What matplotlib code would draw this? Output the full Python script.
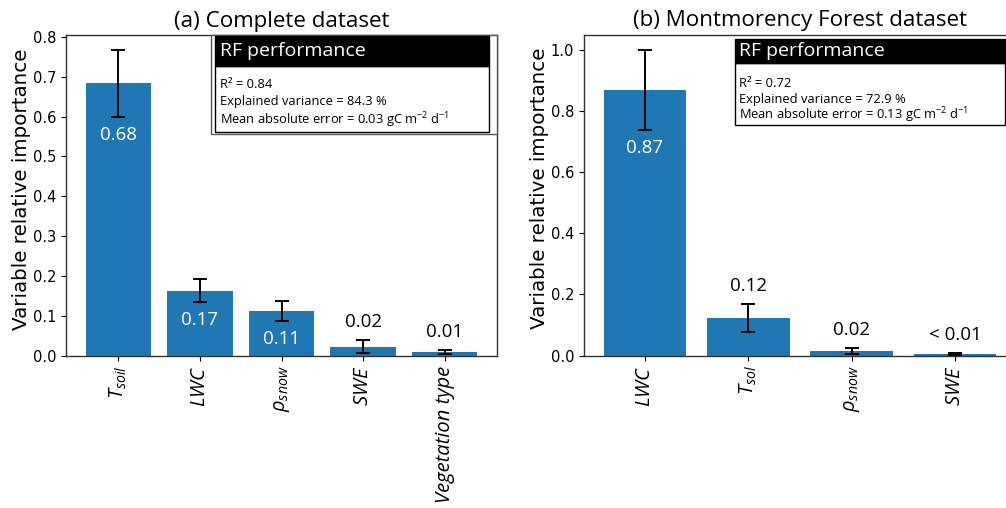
import matplotlib
matplotlib.use("Agg")
import matplotlib.pyplot as plt
from matplotlib.patches import Rectangle

plt.rcParams['mathtext.fontset'] = 'custom'
plt.rcParams['mathtext.it'] = 'Open Sans:italic'
plt.rcParams['mathtext.rm'] = 'Open Sans'
plt.rcParams['mathtext.fallback'] = 'stixsans'

SANS = ['Open Sans', 'DejaVu Sans']
DJ = 'DejaVu Sans'

# ---- data ----
cats_a = [r'$T_{soil}$', r'$LWC$', r'$\rho_{snow}$', r'$SWE$', 'Vegetation type']
vals_a = [0.683, 0.164, 0.113, 0.023, 0.010]
errs_a = [0.083, 0.029, 0.026, 0.016, 0.005]
labels_a = ['0.68', '0.17', '0.11', '0.02', '0.01']
inside_a = [True, True, True, False, False]

cats_b = [r'$LWC$', r'$T_{sol}$', r'$\rho_{snow}$', r'$SWE$']
vals_b = [0.869, 0.123, 0.016, 0.005]
errs_b = [0.132, 0.045, 0.010, 0.003]
labels_b = ['0.87', '0.12', '0.02', '< 0.01']
inside_b = [True, False, False, False]

title_a = '(a) Complete dataset'
title_b = '(b) Montmorency Forest dataset'
perf_a = ['R\u00b2 = 0.84', 'Explained variance = 84.3 %',
          'Mean absolute error = 0.03 gC m$^{-2}$ d$^{-1}$']
perf_b = ['R\u00b2 = 0.72', 'Explained variance = 72.9 %',
          'Mean absolute error = 0.13 gC m$^{-2}$ d$^{-1}$']

BLUE = '#1f77b4'
W, H = 1006, 508
fig = plt.figure(figsize=(W / 100, H / 100), dpi=100)


def axpos(x0, x1, ytop, ybot):
    return [x0 / W, 1 - ybot / H, (x1 - x0) / W, (ybot - ytop) / H]


ax_a = fig.add_axes(axpos(66, 497, 35, 356))
ax_b = fig.add_axes(axpos(584, 1016, 34.5, 355.5))


def draw(ax, cats, vals, errs, labels, inside, title, yticks, yfmt):
    x = list(range(len(cats)))
    ax.bar(x, vals, width=0.8, color=BLUE, yerr=errs, capsize=5,
           error_kw=dict(ecolor='black', elinewidth=1.4, capthick=1.4))
    for i, (v, e, t, ins) in enumerate(zip(vals, errs, labels, inside)):
        if ins:
            ax.annotate(t, xy=(i, v - e), xytext=(0, -13), textcoords='offset points',
                        ha='center', va='center', color='white', fontsize=13.5,
                        family=SANS)
        else:
            ax.annotate(t, xy=(i, v + e), xytext=(0, 13), textcoords='offset points',
                        ha='center', va='center', color='black', fontsize=13.5,
                        family=SANS)
    ax.set_xticks(x)
    ax.set_xticklabels(cats, rotation=90, fontsize=14.5, family=SANS, style='italic')
    ax.set_yticks(yticks)
    ax.set_yticklabels([yfmt.format(t) for t in yticks], fontsize=10.5, family=DJ)
    ax.set_ylabel('Variable relative importance', fontsize=14.3, family=DJ)
    ax.yaxis.set_label_coords(-0.081, 0.52)
    ax.set_title(title, fontsize=16.1, family=SANS, pad=6)
    for s in ax.spines.values():
        s.set_color('#333333')
        s.set_linewidth(1.0)


draw(ax_a, cats_a, vals_a, errs_a, labels_a, inside_a, title_a,
     [0.0, 0.1, 0.2, 0.3, 0.4, 0.5, 0.6, 0.7, 0.8], '{:.1f}')
draw(ax_b, cats_b, vals_b, errs_b, labels_b, inside_b, title_b,
     [0.0, 0.2, 0.4, 0.6, 0.8, 1.0], '{:.1f}')


def perf_box(ax, lines, px0, px1, ptop, phead, pbot, axl, axr, axt, axb,
             text_x, line_ys, frame=None):
    def fx(px):
        return (px - axl) / (axr - axl)

    def fy(py):
        return (axb - py) / (axb - axt)

    if frame is not None:
        fx0, fy0 = frame
        ax.add_patch(Rectangle((fx(fx0), fy(fy0)), 1 - fx(fx0), 1 - fy(fy0),
                               transform=ax.transAxes, facecolor='white',
                               edgecolor='#555555', lw=1.0, zorder=4, clip_on=False))
    ax.add_patch(Rectangle((fx(px0), fy(pbot)), fx(px1) - fx(px0), fy(phead) - fy(pbot),
                           transform=ax.transAxes, facecolor='white', edgecolor='black',
                           lw=1.0, zorder=5, clip_on=False))
    ax.add_patch(Rectangle((fx(px0), fy(phead)), fx(px1) - fx(px0), fy(ptop) - fy(phead),
                           transform=ax.transAxes, facecolor='black', edgecolor='black',
                           lw=1.0, zorder=5, clip_on=False))
    ax.text(fx(text_x), fy((ptop + phead) / 2), 'RF performance', transform=ax.transAxes,
            color='white', fontsize=14, family=SANS, ha='left', va='center', zorder=6)
    for ln, y in zip(lines, line_ys):
        ax.text(fx(text_x), fy(y), ln, transform=ax.transAxes, color='black',
                fontsize=9.3, family=SANS, ha='left', va='center', zorder=6)


perf_box(ax_a, perf_a, 215, 489, 36, 66, 132, 66, 497, 35, 356, 220,
         [84, 102, 120], frame=(211, 134))
perf_box(ax_b, perf_b, 735, 1005, 39, 63, 125, 584, 1016, 34.5, 355.5, 739,
         [83.5, 99, 115])

fig.savefig('out.png', dpi=100)
